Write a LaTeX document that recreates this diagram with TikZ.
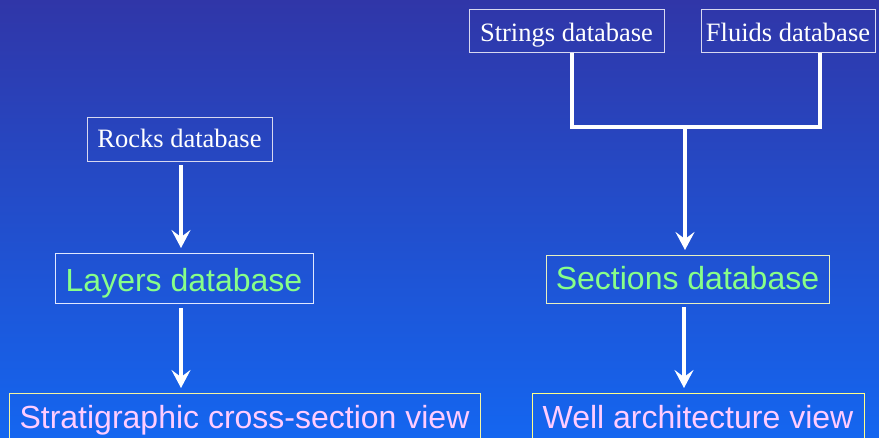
\documentclass[tikz,border=0pt]{standalone}
\usepackage{fontspec}
\setmainfont{Liberation Serif}
\newfontfamily\arialfont{Liberation Sans}
\usetikzlibrary{arrows.meta}
\definecolor{bgtop}{HTML}{3036A8}
\definecolor{bgbot}{HTML}{1466F0}
\definecolor{txtgreen}{HTML}{88FF88}
\definecolor{txtpink}{HTML}{FFCCFF}
\definecolor{brdgray}{HTML}{D8D8F0}
\definecolor{brdwhite}{HTML}{E0E8FF}
\definecolor{brdpale}{HTML}{E8F0C0}
\definecolor{brdyel}{HTML}{F4F4A0}
\definecolor{brdyel2}{HTML}{FFFF88}
\tikzset{
  x=1pt, y=-1pt,
  dbsmall/.style={draw=brdgray, line width=1pt, text=white, inner sep=0pt,
    font=\fontsize{26.5}{30}\selectfont, anchor=north},
  dbbig/.style={line width=1pt, text=txtgreen, inner sep=0pt,
    font=\arialfont\fontsize{32}{36}\selectfont, anchor=north},
  viewbox/.style={line width=1pt, text=txtpink, inner sep=0pt,
    font=\arialfont\fontsize{32}{36}\selectfont, anchor=north},
  conn/.style={draw=white, line width=3.8pt},
  arr/.style={draw=white, line width=3.8pt, -{Stealth[length=18pt,width=19pt,inset=7pt]}},
}
\begin{document}
\begin{tikzpicture}
\useasboundingbox (0,0) rectangle (879,438);
\shade[top color=bgtop, bottom color=bgbot] (0,0) rectangle (879,438);

\node[dbsmall, minimum width=195pt, text height=32pt, text depth=11pt] (strings) at (566.5,9) {Strings database};
\node[dbsmall, minimum width=174pt, text height=32pt, text depth=11pt] (fluids) at (788,9) {Fluids database};
\node[dbsmall, minimum width=185pt, text height=29.7pt, text depth=14.3pt] (rocks) at (179.5,117) {Rocks database};

\node[dbbig, draw=brdwhite, minimum width=258pt, text height=37.7pt, text depth=12.3pt] (layers) at (184,253) {Layers database};
\node[dbbig, draw=brdpale, minimum width=283pt, text height=34.3pt, text depth=13.7pt] (sections) at (687.5,255) {Sections database};

\node[viewbox, draw=brdyel, minimum width=471pt, text height=35.3pt, text depth=15pt] (strat) at (244.5,393) {Stratigraphic cross-section view};
\node[viewbox, draw=brdyel2, minimum width=332pt, text height=35pt, text depth=15pt] (well) at (698,393) {Well architecture view};

\coordinate (J) at (685,127);
\draw[conn] ([xshift=5.5pt]strings.south) |- (J);
\draw[conn] ([xshift=32pt]fluids.south) |- (J);
\draw[arr, shorten >=5pt] (J) -- (J |- sections.north);

\draw[arr, shorten <=3pt, shorten >=5pt] ([xshift=1.5pt]rocks.south) -- ([xshift=1.5pt]rocks.south |- layers.north);
\draw[arr, shorten <=4pt, shorten >=5pt] ([xshift=-3pt]layers.south) -- ([xshift=-3pt]layers.south |- strat.north);
\draw[arr, shorten <=3pt, shorten >=5pt] ([xshift=-3.5pt]sections.south) -- ([xshift=-3.5pt]sections.south |- well.north);
\end{tikzpicture}
\end{document}
